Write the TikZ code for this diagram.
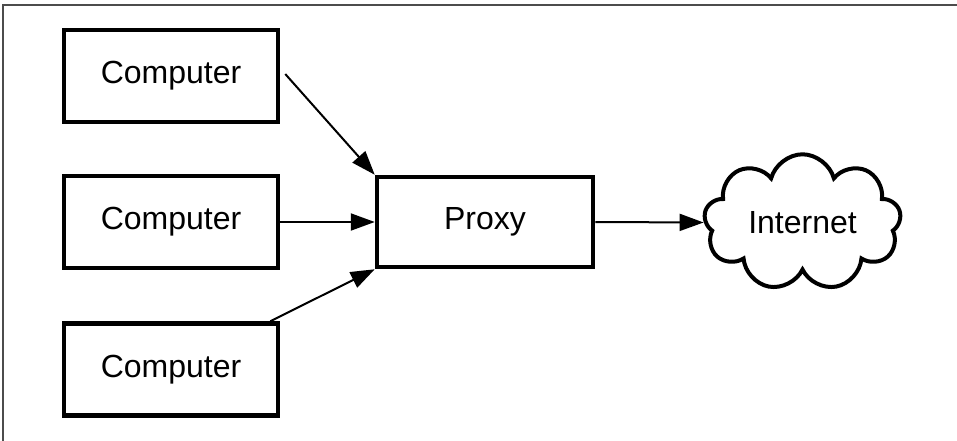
\documentclass[tikz,border=0pt]{standalone}
\usepackage{fontspec}
\setmainfont{Liberation Sans}
\usetikzlibrary{shapes.symbols,arrows.meta}
\begin{document}
\begin{tikzpicture}[x=1pt,y=-1pt,
  box/.style={draw,line width=4.5pt,inner sep=0pt,minimum width=214pt,minimum height=92pt,font=\fontsize{32}{36}\selectfont},
  netcloud/.style={draw,cloud,cloud puffs=9,cloud puff arc=150,aspect=1.5,line width=4pt,inner sep=0pt,minimum width=197pt,minimum height=131pt,font=\fontsize{32}{36}\selectfont},
  arr/.style={line width=2pt,-{Triangle[length=24pt,width=17pt]}},
  frame/.style={draw=black!70,line width=1.5pt}]
\useasboundingbox (0,0) rectangle (957,441);
\coordinate (fbl) at (3,441);
\coordinate (ftl) at (3,5);
\coordinate (ftr) at (957,5);
\draw[frame] (fbl) -- (ftl) -- (ftr);
\node[box] (c1) at (171,76) {Computer};
\node[box] (c2) at (171,222) {Computer};
\node[box] (c3) at (171,369.5) {Computer};
\node[box,minimum width=216pt,minimum height=90pt] (proxy) at (485,222) {Proxy};
\node[netcloud] (net) at (802.5,222.5) {Internet};
\draw[arr] ([xshift=5pt,yshift=1pt]c1.east |- 0,75) -- (proxy.north west);
\draw[arr] (c2.east) -- (proxy.west);
\draw[arr] ([xshift=-10pt]c3.north east) -- (proxy.south west);
\draw[arr] (proxy.east) -- (net.west);
\end{tikzpicture}
\end{document}
